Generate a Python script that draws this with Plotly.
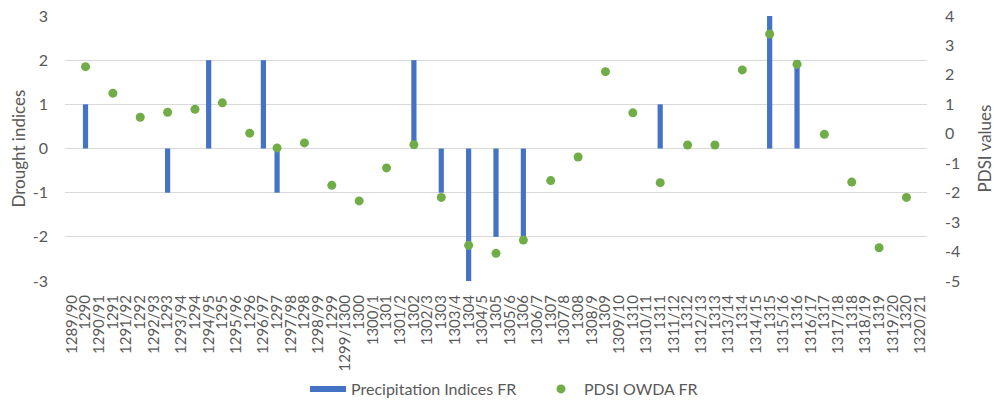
import plotly.graph_objects as go

# Categories (x axis)
categories = ["1289/90"]
for y in range(1290, 1321):
    categories.append(str(y))
    nxt = y + 1
    if y == 1299:
        categories.append("1299/1300")
    elif y >= 1300 and y < 1309:
        categories.append(f"{y}/{nxt % 10}")
    else:
        categories.append(f"{y}/{nxt % 100:02d}")

# Precipitation indices (FR)
precip_x = ["1290", "1293", "1294/95", "1296/97", "1297", "1302", "1303",
            "1304", "1305", "1306", "1311", "1315", "1316"]
precip_y = [1, -1, 2, 2, -1, 2, -1, -3, -2, -2, 1, 3, 2]

# PDSI OWDA FR values
pdsi_x = [str(y) for y in range(1290, 1321)]
pdsi_y = [2.28, 1.38, 0.56, 0.73, 0.83, 1.05, 0.02, -0.48, -0.31, -1.75,
          -2.28, -1.16, -0.37, -2.16, -3.79, -4.06, -3.61, -1.59, -0.79, 2.11,
          0.71, -1.66, -0.38, -0.38, 2.17, 3.39, 2.36, -0.02, -1.64, -3.87, -2.16]

left_ticks = [-3, -2, -1, 0, 1, 2, 3]
right_ticks = [-5, -4, -3, -2, -1, 0, 1, 2, 3, 4]

FONT = "Lato, 'Open Sans', sans-serif"
GRAY = "#595959"
BLUE = "#4472C4"
GREEN = "#70AD47"

fig = go.Figure()
fig.add_trace(go.Bar(
    x=precip_x, y=precip_y, name="Precipitation Indices FR",
    marker=dict(color=BLUE, line=dict(width=0)), width=0.38,
    yaxis="y", showlegend=False,
))
# legend entry for bars drawn as a wide rectangle
fig.add_trace(go.Scatter(
    x=[None], y=[None], mode="lines", name="Precipitation Indices FR",
    line=dict(color=BLUE, width=6), yaxis="y",
))
fig.add_trace(go.Scatter(
    x=pdsi_x, y=pdsi_y, name="PDSI OWDA FR", mode="markers",
    marker=dict(color=GREEN, size=9), yaxis="y2",
))

W, H = 994, 409
ML, MR, MT, MB = 65, 67, 16, 128
plot_w = W - ML - MR
plot_h = H - MT - MB

fig.update_layout(
    width=W, height=H,
    margin=dict(l=ML, r=MR, t=MT, b=MB, autoexpand=False),
    paper_bgcolor="white", plot_bgcolor="white",
    font=dict(family=FONT, color=GRAY),
    showlegend=True,
    legend=dict(orientation="h", x=(305 - ML) / plot_w, xanchor="left",
                y=(MT + plot_h - 389) / plot_h, yanchor="middle",
                font=dict(size=16, color=GRAY), traceorder="normal",
                itemwidth=36, entrywidth=182, entrywidthmode="pixels"),
    xaxis=dict(
        type="category", categoryorder="array", categoryarray=categories,
        tickmode="array", tickvals=categories, ticktext=categories,
        range=[-0.5, len(categories) - 0.5],
        tickangle=-90, tickfont=dict(size=15, color=GRAY),
        showgrid=False, showline=False, ticks="", zeroline=False,
        automargin=False, ticklabelstandoff=10,
    ),
    yaxis=dict(
        range=[-3, 3], tickmode="array", tickvals=left_ticks,
        ticktext=[str(v) for v in left_ticks],
        tickfont=dict(size=16, color=GRAY),
        showgrid=True, gridcolor="#D9D9D9", gridwidth=1,
        zeroline=True, zerolinecolor="#D9D9D9", zerolinewidth=1,
        ticks="", ticklabelstandoff=16, automargin=False,
    ),
    yaxis2=dict(
        range=[-5, 4], tickmode="array", tickvals=right_ticks,
        ticktext=[str(v) for v in right_ticks],
        overlaying="y", side="right",
        tickfont=dict(size=16, color=GRAY),
        showgrid=False, zeroline=False,
        ticks="", ticklabelstandoff=17, automargin=False,
    ),
)

fig.add_annotation(text="Drought indices", x=(18 - ML) / plot_w, y=0.5,
                   xref="paper", yref="paper", xanchor="center", yanchor="middle",
                   textangle=-90, showarrow=False, font=dict(size=17, color=GRAY))
fig.add_annotation(text="PDSI values", x=(984 - ML) / plot_w, y=0.5,
                   xref="paper", yref="paper", xanchor="center", yanchor="middle",
                   textangle=-90, showarrow=False, font=dict(size=17, color=GRAY))

fig.write_html("out.html", config={"displayModeBar": False},
               post_script="document.body.style.margin='0';document.body.style.overflow='hidden';")
